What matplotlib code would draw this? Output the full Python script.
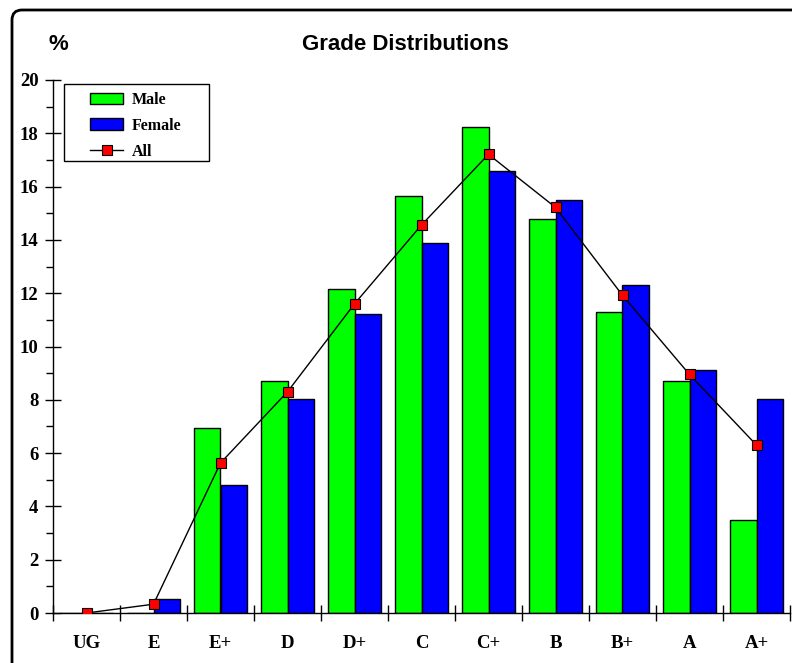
import numpy as np
import matplotlib
matplotlib.use("Agg")
import matplotlib.pyplot as plt
from matplotlib.ticker import MultipleLocator, FixedLocator
from matplotlib.patches import FancyBboxPatch, Rectangle

grades = ["UG", "E", "E+", "D", "D+", "C", "C+", "B", "B+", "A", "A+"]
male = [0.0, 0.0, 6.95, 8.7, 12.15, 15.65, 18.25, 14.77, 11.3, 8.7, 3.5]
female = [0.0, 0.53, 4.82, 8.03, 11.23, 13.9, 16.57, 15.5, 12.3, 9.1, 8.03]
all_students = [0.0, 0.33, 5.63, 8.3, 11.6, 14.56, 17.21, 15.22, 11.92, 8.95, 6.3]

fig = plt.figure(figsize=(7.92, 6.63), dpi=100)

# rounded outer frame (right/bottom edges run off the image)
frame = FancyBboxPatch((0.12, -0.5), 9.0, 7.03, boxstyle="round,pad=0,rounding_size=0.1",
                       transform=fig.dpi_scale_trans, fill=False, lw=2, ec="black")
fig.patches.append(frame)

ax = fig.add_axes([53 / 792, 50 / 663, 737 / 792, 533 / 663])
x = np.arange(len(grades))
w = 0.4
b1 = ax.bar(x - w / 2, male, w, color="#00ff00", edgecolor="black", lw=1, label="Male")
b2 = ax.bar(x + w / 2, female, w, color="#0000ff", edgecolor="black", lw=1, label="Female")
l1, = ax.plot(x, all_students, "-s", color="black", lw=1, mfc="red", mec="black",
              ms=7, mew=0.8, label="All", zorder=5)

ax.set_xlim(-0.5, len(grades) - 0.5)
ax.set_ylim(0, 20)
for s in ["top", "right"]:
    ax.spines[s].set_visible(False)
ax.spines["left"].set_linewidth(1)
ax.spines["bottom"].set_linewidth(1)

serif = {"family": "Liberation Serif", "weight": "bold", "size": 13.5}

ax.yaxis.set_minor_locator(MultipleLocator(1))
ax.tick_params(axis="y", which="major", direction="inout", length=11, width=1, pad=5)
ax.tick_params(axis="y", which="minor", direction="out", length=5, width=1)
ax.set_yticks(np.arange(0, 21, 2))
ax.set_yticklabels([str(v) for v in range(0, 21, 2)], fontdict=serif)

ax.xaxis.set_major_locator(FixedLocator(np.arange(-0.5, len(grades), 1)))
ax.xaxis.set_major_formatter(plt.NullFormatter())
ax.set_xticks(x, minor=True)
ax.set_xticklabels(grades, minor=True, fontdict=serif)
ax.tick_params(axis="x", which="major", direction="inout", length=12, width=1)
ax.tick_params(axis="x", which="minor", length=0, pad=16)

leg = ax.legend([b1, b2, l1], ["Male", "Female", "All"], loc="upper left",
                bbox_to_anchor=(0.05, 0.978), frameon=False,
                prop={"family": "Liberation Serif", "weight": "bold", "size": 11.5},
                handlelength=2.1, handletextpad=0.5, labelspacing=0.62,
                borderaxespad=0, borderpad=0)
ax.add_patch(Rectangle((11 / 737, 452 / 533), 145 / 737, 77 / 533, transform=ax.transAxes,
                       fill=False, lw=1, ec="black", clip_on=False, zorder=6))

fig.text(405 / 792, 1 - 44 / 663, "Grade Distributions", ha="center", va="center",
         family="Liberation Sans", weight="bold", size=16)
fig.text(58 / 792, 1 - 44 / 663, "%", ha="center", va="center",
         family="Liberation Sans", weight="bold", size=16)

fig.savefig("out.png", dpi=100)
